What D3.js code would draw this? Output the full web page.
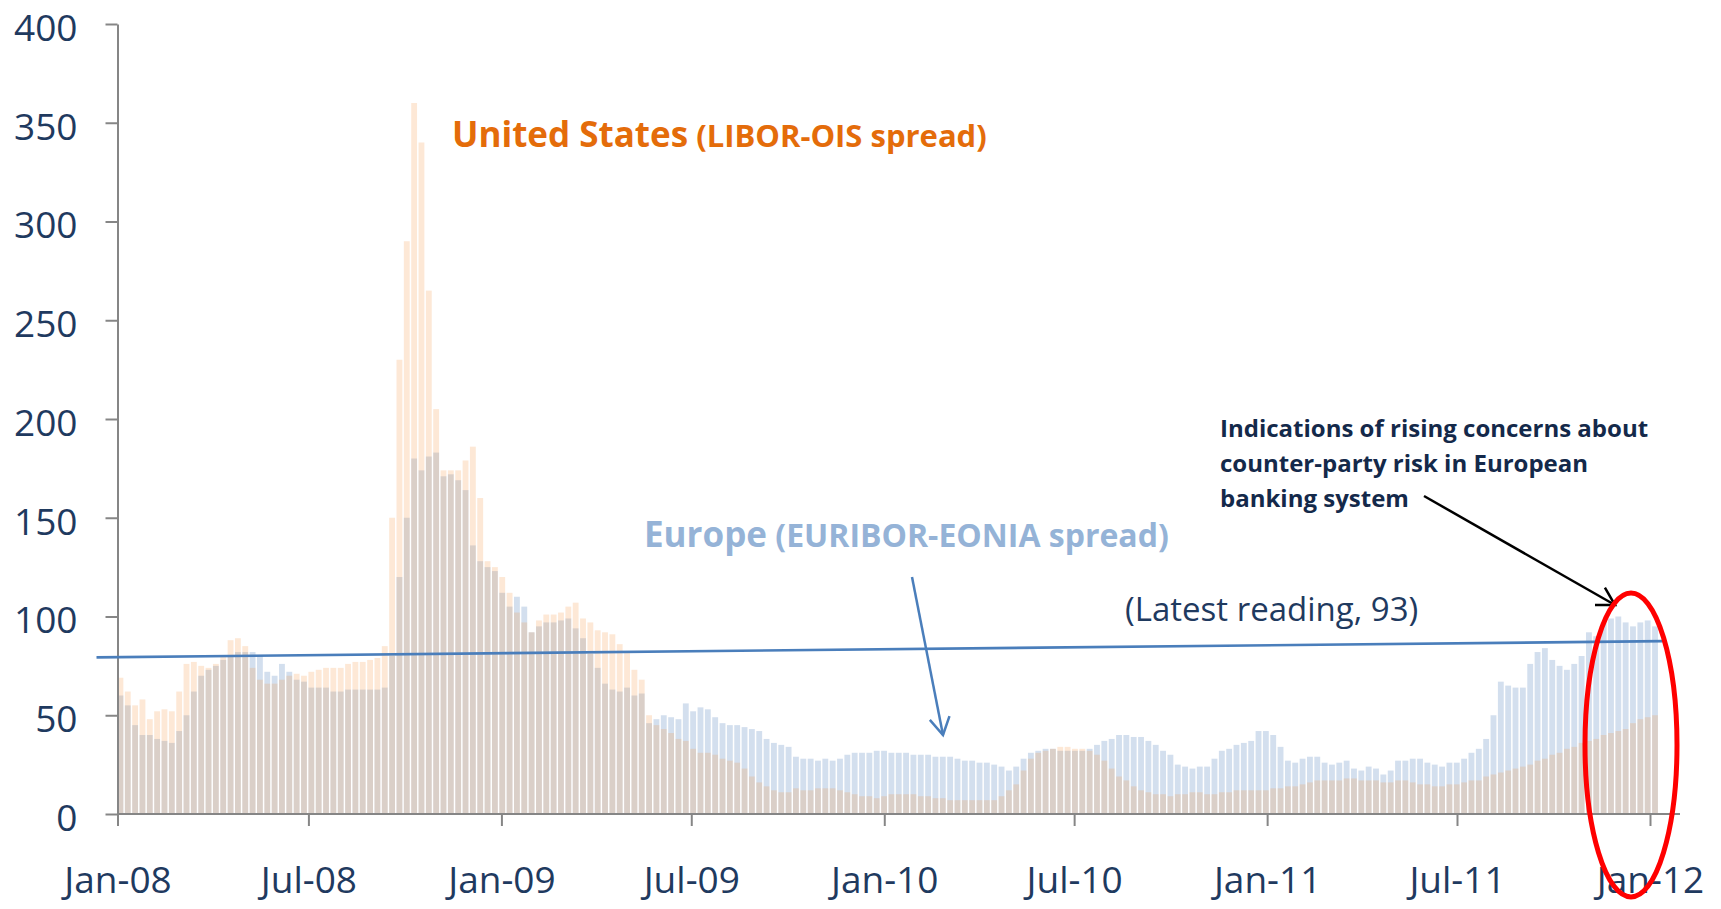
<!DOCTYPE html>
<html>
<head>
<meta charset="utf-8">
<script src="https://cdn.jsdelivr.net/npm/d3@7"></script>
<style>
  body { margin: 0; background: #fff; }
  svg { display: block; font-family: "Open Sans", sans-serif; }
</style>
</head>
<body>
<svg id="drawing_region"></svg>
<script>
// weekly readings (bp), first week starts 1 Jan 2008
const firstWeek = "2008-01-01";

const usSpread = [
    69, 62, 55, 58, 48, 52, 53, 52, 62, 76, 77, 75, 74, 76, 80, 88, 89, 85, 74, 68,
    66, 66, 68, 70, 71, 70, 72, 73, 74, 74, 74, 76, 77, 77, 78, 79, 85, 150, 230, 290,
    360, 340, 265, 205, 174, 174, 174, 179, 186, 160, 128, 125, 120, 112, 102, 97, 92, 98, 101, 101,
    102, 105, 107, 99, 97, 93, 92, 91, 86, 82, 73, 68, 50, 45, 43, 41, 38, 37, 33, 31,
    31, 30, 28, 27, 26, 23, 19, 16, 14, 12, 11, 11, 13, 12, 12, 13, 13, 13, 12, 11,
    10, 9, 9, 8, 9, 10, 10, 10, 10, 9, 9, 8, 8, 7, 7, 7, 7, 7, 7, 7,
    9, 12, 15, 22, 28, 31, 32, 33, 34, 34, 33, 33, 32, 30, 27, 23, 19, 17, 14, 12,
    11, 10, 10, 9, 10, 10, 11, 11, 10, 10, 11, 11, 12, 12, 12, 12, 12, 13, 13, 14,
    14, 15, 16, 17, 17, 17, 17, 18, 18, 17, 17, 17, 16, 16, 17, 17, 16, 15, 15, 14,
    14, 15, 15, 16, 17, 17, 19, 20, 21, 22, 23, 24, 25, 27, 28, 30, 31, 33, 34, 36,
    37, 38, 40, 41, 42, 43, 46, 48, 49, 50
];

const euSpread = [
    60, 55, 45, 40, 40, 38, 37, 36, 42, 50, 62, 70, 73, 75, 78, 80, 82, 82, 82, 80,
    72, 70, 76, 72, 68, 67, 64, 64, 64, 62, 62, 63, 63, 63, 63, 63, 64, 80, 120, 150,
    180, 174, 181, 183, 171, 172, 169, 164, 136, 128, 125, 123, 112, 105, 110, 105, 92, 95, 97, 97,
    98, 99, 94, 89, 81, 74, 66, 63, 62, 64, 60, 61, 46, 48, 50, 49, 48, 56, 52, 54,
    53, 49, 46, 45, 45, 44, 43, 42, 38, 36, 35, 34, 29, 28, 28, 27, 28, 27, 28, 30,
    31, 31, 31, 32, 32, 31, 31, 31, 30, 30, 30, 29, 29, 29, 28, 27, 27, 26, 26, 25,
    24, 22, 24, 28, 31, 32, 33, 33, 32, 32, 32, 32, 33, 35, 37, 38, 40, 40, 39, 39,
    37, 35, 32, 30, 25, 24, 23, 24, 24, 28, 32, 33, 35, 36, 37, 42, 42, 40, 34, 27,
    26, 28, 29, 29, 26, 25, 26, 27, 23, 22, 24, 23, 20, 22, 27, 27, 28, 28, 26, 25,
    24, 26, 26, 28, 31, 33, 38, 50, 67, 65, 64, 64, 76, 82, 84, 78, 75, 73, 76, 80,
    92, 90, 97, 99, 100, 97, 95, 97, 98, 95
];

const yTicks = [0, 50, 100, 150, 200, 250, 300, 350, 400];
const xTicks = ["2008-01-01", "2008-07-01", "2009-01-01", "2009-07-01", "2010-01-01",
    "2010-07-01", "2011-01-01", "2011-07-01", "2012-01-01"];

// the straight "latest reading" reference line
const trendDates = ["2007-12-12", "2012-01-13"];
const trendValues = [79.3, 87.5];

const noteLines = [
    "Indications of rising concerns about",
    "counter-party risk in European",
    "banking system"
];

const W = 1721, H = 909;
const parse = d3.timeParse("%Y-%m-%d");
const navy = "#1f3a5f";

const svg = d3.select("#drawing_region")
    .attr("width", W)
    .attr("height", H);

const x = d3.scaleTime()
    .domain([parse("2008-01-01"), parse("2012-01-01")])
    .range([117.5, 1650]);

const y = d3.scaleLinear()
    .domain([0, 400])
    .range([814, 24]);

const weeks = usSpread.map((d, i) => d3.timeDay.offset(parse(firstWeek), i * 7));
const barW = d => x(d3.timeDay.offset(d, 7)) - x(d) - 1.5;

// bars: Europe first, then US on top, both see-through
function drawBars(values, color, opacity, cls) {
    svg.append("g").attr("class", cls)
        .selectAll("rect")
        .data(values)
        .enter()
        .append("rect")
        .attr("x", (d, i) => x(weeks[i]))
        .attr("width", (d, i) => barW(weeks[i]))
        .attr("y", d => y(d))
        .attr("height", d => y(0) - y(d))
        .attr("fill", color)
        .attr("fill-opacity", opacity);
}
drawBars(euSpread, "#4f81bd", 0.25, "eu");
drawBars(usSpread, "#f79646", 0.22, "us");

// axes
const yAxis = svg.append("g")
    .attr("transform", `translate(${x.range()[0]},0)`)
    .call(d3.axisLeft(y).tickValues(yTicks).tickSize(12).tickSizeOuter(0).tickPadding(28));
yAxis.selectAll("text").attr("dy", "0.44em");

const xAxis = svg.append("g")
    .attr("transform", `translate(0,${y(0)})`)
    .call(d3.axisBottom(x)
        .tickValues(xTicks.map(parse))
        .tickSize(12)
        .tickSizeOuter(0)
        .tickPadding(41)
        .tickFormat(d3.timeFormat("%b-%y")));
xAxis.select(".domain").remove();
xAxis.append("line")
    .attr("x1", x.range()[0]).attr("x2", 1680)
    .attr("y1", 0).attr("y2", 0);

[yAxis, xAxis].forEach(a => {
    a.selectAll("path, line").attr("stroke", "#868686").attr("stroke-width", 2);
    a.selectAll("text")
        .attr("fill", navy)
        .style("font-family", "'Open Sans', sans-serif")
        .style("font-size", "37px");
});

// reference line
svg.append("line")
    .attr("x1", x(parse(trendDates[0]))).attr("y1", y(trendValues[0]))
    .attr("x2", x(parse(trendDates[1]))).attr("y2", y(trendValues[1]))
    .attr("stroke", "#4a7ebb")
    .attr("stroke-width", 2.7);

// labels
const us = svg.append("text")
    .attr("x", 452).attr("y", 147)
    .attr("fill", "#e46c0a")
    .attr("font-weight", "bold");
us.append("tspan").attr("font-size", "35px").text("United States");
us.append("tspan").attr("font-size", "31px").text(" (LIBOR-OIS spread)");

const eu = svg.append("text")
    .attr("x", 644).attr("y", 547)
    .attr("fill", "#95b3d7")
    .attr("font-weight", "bold");
eu.append("tspan").attr("font-size", "35px").text("Europe");
eu.append("tspan").attr("font-size", "32px").text(" (EURIBOR-EONIA spread)");

svg.append("text")
    .attr("x", 1125).attr("y", 621)
    .attr("fill", navy)
    .attr("font-size", "33px")
    .text("(Latest reading, 93)");

svg.append("g")
    .selectAll("text")
    .data(noteLines)
    .enter()
    .append("text")
    .attr("x", 1220)
    .attr("y", (d, i) => 437 + i * 35)
    .attr("fill", "#14294a")
    .attr("font-weight", "bold")
    .attr("font-size", "24px")
    .text(d => d);

// arrows with open heads
function arrow(x1, y1, x2, y2, color, width) {
    const g = svg.append("g")
        .attr("stroke", color)
        .attr("stroke-width", width)
        .attr("fill", "none");
    g.append("line").attr("x1", x1).attr("y1", y1).attr("x2", x2).attr("y2", y2);
    const a = Math.atan2(y1 - y2, x1 - x2);
    const len = 20, spread = Math.PI / 6;
    const pts = [
        [x2 + len * Math.cos(a + spread), y2 + len * Math.sin(a + spread)],
        [x2, y2],
        [x2 + len * Math.cos(a - spread), y2 + len * Math.sin(a - spread)]
    ];
    g.append("path").attr("d", d3.line()(pts));
}
arrow(912, 577, 943, 735, "#4a7ebb", 2.5);
arrow(1424, 496, 1615, 605, "#000", 2.5);

// red ring round the latest weeks
svg.append("ellipse")
    .attr("cx", 1631).attr("cy", 745)
    .attr("rx", 46).attr("ry", 152)
    .attr("fill", "none")
    .attr("stroke", "#ff0000")
    .attr("stroke-width", 5);
</script>
</body>
</html>
